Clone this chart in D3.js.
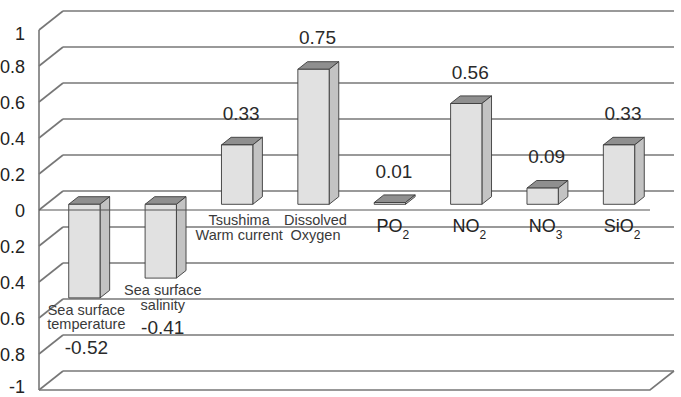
<!DOCTYPE html>
<html>
<head>
<meta charset="utf-8">
<script src="https://cdn.jsdelivr.net/npm/d3@7"></script>
<style>
  body { margin: 0; background: #fff; }
  svg { display: block; font-family: "Liberation Sans", Arial, sans-serif; }
</style>
</head>
<body>
<div id="chart"></div>
<script>
// Chart data
const categories = [
    ["Sea surface", "temperature"],
    ["Sea surface", "salinity"],
    ["Tsushima", "Warm current"],
    ["Dissolved", "Oxygen"],
    ["PO2"],
    ["NO2"],
    ["NO3"],
    ["SiO2"]
];
const values = [-0.52, -0.41, 0.33, 0.75, 0.01, 0.56, 0.09, 0.33];
const valueLabels = ["-0.52", "-0.41", "0.33", "0.75", "0.01", "0.56", "0.09", "0.33"];
const tickValues = [1, 0.8, 0.6, 0.4, 0.2, 0, -0.2, -0.4, -0.6, -0.8, -1];
// tick labels as they show in the picture (minus signs fall off the left edge)
const tickLabels = ["1", "0.8", "0.6", "0.4", "0.2", "0", "0.2", "0.4", "0.6", "0.8", "-1"];

const width = 681;
const height = 397;

// 3D depth of the plot box
const depthX = 24;
const depthY = -19;
// bar sits between these depth fractions
const barFront = 0.3;
const barBack = 0.7;

const svg = d3.select("#chart")
    .append("svg")
    .attr("width", width)
    .attr("height", height);

svg.append("rect").attr("width", width).attr("height", height).attr("fill", "#fff");

// front plane scales
const x = d3.scaleBand()
    .domain(d3.range(categories.length))
    .range([39, 650])
    .paddingInner(0.59)
    .paddingOuter(0.295);

const y = d3.scaleLinear()
    .domain([-1, 1])
    .range([390, 30]);

// project a front-plane point back by depth fraction d
function proj(px, py, d) {
    return [px + depthX * d, py + depthY * d];
}

const grid = svg.append("g")
    .attr("stroke", "#777")
    .attr("stroke-width", 1.6)
    .attr("fill", "none");

// back wall gridlines
grid.selectAll("line.back")
    .data(tickValues)
    .enter()
    .append("line")
    .attr("class", "back")
    .attr("x1", d => proj(x.range()[0], y(d), 1)[0])
    .attr("x2", d => proj(x.range()[1], y(d), 1)[0])
    .attr("y1", d => proj(0, y(d), 1)[1])
    .attr("y2", d => proj(0, y(d), 1)[1]);

// left wall diagonals
grid.selectAll("line.side")
    .data(tickValues)
    .enter()
    .append("line")
    .attr("class", "side")
    .attr("x1", x.range()[0])
    .attr("y1", d => y(d))
    .attr("x2", d => proj(x.range()[0], y(d), 1)[0])
    .attr("y2", d => proj(x.range()[0], y(d), 1)[1]);

// left front edge
grid.append("line")
    .attr("x1", x.range()[0]).attr("x2", x.range()[0])
    .attr("y1", y(1)).attr("y2", y(-1));

// floor front edge and right corner
grid.append("polyline")
    .attr("points", [
        [x.range()[0], y(-1)],
        [x.range()[1], y(-1)],
        proj(x.range()[1], y(-1), 1)
    ].map(p => p.join(",")).join(" "));

// y tick labels
svg.append("g")
    .selectAll("text")
    .data(tickValues)
    .enter()
    .append("text")
    .attr("x", 25)
    .attr("y", d => d === -1 ? y(d) + 2.5 : y(d) + 7 + (d === 1 ? 3 : 0))
    .attr("text-anchor", "end")
    .attr("font-size", "18px")
    .attr("fill", "#222")
    .text((d, i) => tickLabels[i]);

// bars
const bw = x.bandwidth();
const bars = svg.append("g")
    .attr("stroke", "#3a3a3a")
    .attr("stroke-width", 0.9)
    .attr("stroke-linejoin", "round");

values.forEach(function(v, i) {
    const x0 = x(i);
    const x1 = x0 + bw;
    const yTop = y(Math.max(v, 0));
    const yBot = y(Math.min(v, 0));
    const pts = arr => arr.map(p => p.join(",")).join(" ");

    // top face
    bars.append("polygon")
        .attr("fill", "#8f8f8f")
        .attr("points", pts([
            proj(x0, yTop, barFront), proj(x1, yTop, barFront),
            proj(x1, yTop, barBack), proj(x0, yTop, barBack)
        ]));
    // side face
    bars.append("polygon")
        .attr("fill", "#c3c3c3")
        .attr("points", pts([
            proj(x1, yTop, barFront), proj(x1, yTop, barBack),
            proj(x1, yBot, barBack), proj(x1, yBot, barFront)
        ]));
    // front face
    bars.append("polygon")
        .attr("fill", "#e1e1e1")
        .attr("points", pts([
            proj(x0, yTop, barFront), proj(x1, yTop, barFront),
            proj(x1, yBot, barFront), proj(x0, yBot, barFront)
        ]));
});

// zero line on the front plane, drawn over the bars
svg.append("line")
    .attr("x1", x.range()[0]).attr("x2", x.range()[1])
    .attr("y1", y(0)).attr("y2", y(0))
    .attr("stroke", "#555")
    .attr("stroke-width", 1.2);

// category labels and value labels
const labels = svg.append("g").attr("text-anchor", "middle");

values.forEach(function(v, i) {
    const faceCenter = proj(x(i) + bw / 2, 0, barFront)[0];
    const faceBottom = proj(0, y(Math.min(v, 0)), barFront)[1];
    const lines = categories[i];

    if (lines.length === 1) {
        // chemical formula with subscript digits
        const t = labels.append("text")
            .attr("x", faceCenter + 3)
            .attr("y", y(0) + 22)
            .attr("font-size", "18px")
            .attr("fill", "#222");
        lines[0].split(/(\d+)/).filter(s => s).forEach(function(part) {
            if (/^\d+$/.test(part)) {
                t.append("tspan").attr("font-size", "12px").attr("dy", 7).text(part);
                t.append("tspan").attr("dy", -7).text("");
            } else {
                t.append("tspan").text(part);
            }
        });
    } else {
        const baseY = v < 0 ? faceBottom + 17 : y(0) + 15;
        labels.selectAll(null)
            .data(lines)
            .enter()
            .append("text")
            .attr("x", faceCenter + 2)
            .attr("y", (d, j) => baseY + j * 14.5)
            .attr("font-size", "14.5px")
            .attr("fill", "#3a3a3a")
            .text(d => d);
    }

    // value label
    const vy = v < 0 ? faceBottom + 56 : proj(0, y(v), barFront)[1] - 25;
    labels.append("text")
        .attr("x", faceCenter + (v < 0 ? 2 : 4))
        .attr("y", vy)
        .attr("font-size", "19px")
        .attr("fill", "#2a2a2a")
        .text(valueLabels[i]);
});
</script>
</body>
</html>
